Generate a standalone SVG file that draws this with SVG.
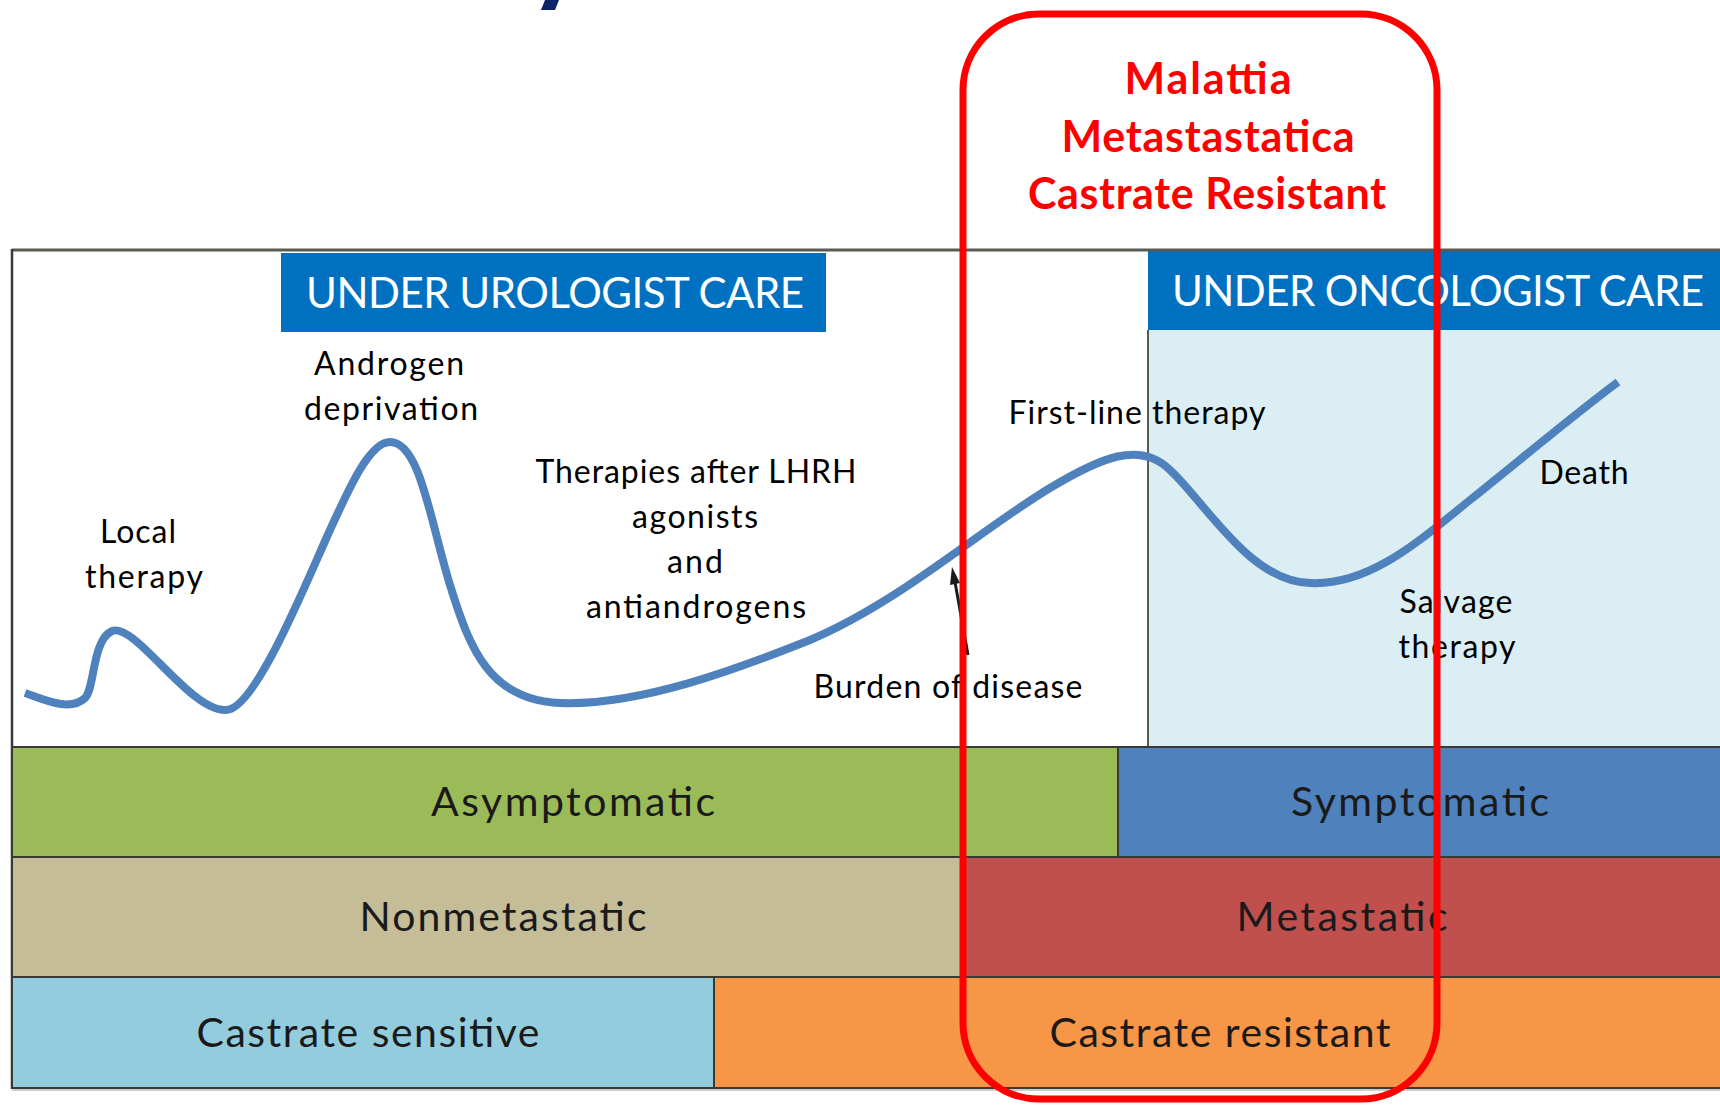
<svg xmlns="http://www.w3.org/2000/svg" width="1720" height="1105" viewBox="0 0 1720 1105">
<style>
.lbl{font-family:Lato,"Open Sans","Liberation Sans",sans-serif;font-size:32px;fill:#000;text-anchor:middle}
.hdr{font-family:Lato,"Open Sans","Liberation Sans",sans-serif;font-size:42px;fill:#fff;text-anchor:middle}
.band{font-family:Lato,"Open Sans","Liberation Sans",sans-serif;font-size:41px;fill:#1a1a1a;text-anchor:middle}
.red{font-family:Lato,"Open Sans","Liberation Sans",sans-serif;font-size:43px;font-weight:bold;fill:#ff0000;text-anchor:middle}
.bd{stroke:#3a3a34;stroke-width:2}
</style>
<rect width="1720" height="1105" fill="#fff"/>
<polygon points="545,0 559,0 555,10 541,10" fill="#0b2566"/>

<g id="chart-area">
<rect x="12" y="250" width="1710" height="497" fill="#fff"/>
<rect x="1148" y="330" width="574" height="417" fill="#dbeef4"/>
</g>

<g id="header-urologist">
<rect x="281" y="253" width="545" height="79" fill="#0070c0"/>
<text class="hdr" x="555" y="308" textLength="498">UNDER UROLOGIST CARE</text>
</g>
<g id="header-oncologist">
<rect x="1148" y="250" width="574" height="80" fill="#0070c0"/>
<text class="hdr" x="1438" y="306" textLength="532">UNDER ONCOLOGIST CARE</text>
</g>

<g id="labels">
<text class="lbl" x="138" y="543" textLength="76">Local</text>
<text class="lbl" x="144" y="588" textLength="118">therapy</text>
<text class="lbl" x="389" y="375" textLength="150">Androgen</text>
<text class="lbl" x="391" y="420" textLength="174">deprivation</text>
<text class="lbl" x="696" y="483" textLength="321">Therapies after LHRH</text>
<text class="lbl" x="695" y="528" textLength="126">agonists</text>
<text class="lbl" x="695" y="573" textLength="56">and</text>
<text class="lbl" x="696" y="618" textLength="220">antiandrogens</text>
<text class="lbl" x="948" y="698" textLength="269">Burden of disease</text>
<text class="lbl" x="1137" y="424" textLength="257">First-line therapy</text>
<text class="lbl" x="1584" y="484" textLength="89">Death</text>
<text class="lbl" x="1456" y="613" textLength="113">Salvage</text>
<text class="lbl" x="1457" y="658" textLength="117">therapy</text>
</g>

<g id="frame-lines" fill="none">
<line x1="1148" y1="330" x2="1148" y2="747" stroke="#5a5a55" stroke-width="2"/>
<line x1="12" y1="250" x2="1720" y2="250" stroke="#5a5a55" stroke-width="3"/>
<line x1="12" y1="249" x2="12" y2="1089" stroke="#3a3a34" stroke-width="2.5"/>
</g>

<g id="connectors" fill="none">
<path id="burden-curve" d="M25,693 C45,700 70,712 85,698 C95,688 92,640 112,631 C135,622 190,712 226,710 C255,710 305,585 330,530 C350,486 370,442 390,442 C420,442 430,520 450,585 C470,650 490,700 560,703 C640,706 740,668 810,640 C900,602 980,530 1050,488 C1100,458 1140,440 1170,470 C1205,502 1250,582 1310,583 C1370,586 1420,540 1470,500 C1520,460 1580,410 1618,382" stroke="#4f81bd" stroke-width="8"/>
<g id="burden-arrow">
<line x1="968" y1="655" x2="955" y2="582" stroke="#1a1a1a" stroke-width="3"/>
<polygon points="952,567 960,583 950,585" fill="#1a1a1a"/>
</g>
</g>

<g id="band-asymptomatic">
<rect class="bd" x="12" y="747" width="1106" height="110" fill="#9bbb59"/>
<text class="band" x="573" y="816" textLength="284">Asymptomatic</text>
</g>
<g id="band-symptomatic">
<rect class="bd" x="1118" y="747" width="604" height="110" fill="#4f81bd"/>
<text class="band" x="1420" y="816" textLength="258">Symptomatic</text>
</g>
<g id="band-nonmetastatic">
<rect class="bd" x="12" y="857" width="951" height="120" fill="#c4bd97"/>
<text class="band" x="503" y="931" textLength="287">Nonmetastatic</text>
</g>
<g id="band-metastatic">
<rect class="bd" x="963" y="857" width="759" height="120" fill="#c0504d"/>
<text class="band" x="1342" y="931" textLength="211">Metastatic</text>
</g>
<g id="band-castrate-sensitive">
<rect class="bd" x="12" y="977" width="702" height="111" fill="#93cddd"/>
<text class="band" x="368" y="1047" textLength="343">Castrate sensitive</text>
</g>
<g id="band-castrate-resistant">
<rect class="bd" x="714" y="977" width="1008" height="111" fill="#f79646"/>
<text class="band" x="1220" y="1047" textLength="341">Castrate resistant</text>
</g>
<line x1="12" y1="1090" x2="1720" y2="1090" stroke="#bdbdbd" stroke-width="1.5"/>

<g id="mcrpc-box">
<rect x="963" y="14" width="474" height="1085" rx="76" ry="76" fill="none" stroke="#ff0000" stroke-width="7"/>
<text class="red" x="1208" y="94" textLength="167">Malattia</text>
<text class="red" x="1208" y="152" textLength="293">Metastastatica</text>
<text class="red" x="1207" y="209" textLength="358">Castrate Resistant</text>
</g>
</svg>
